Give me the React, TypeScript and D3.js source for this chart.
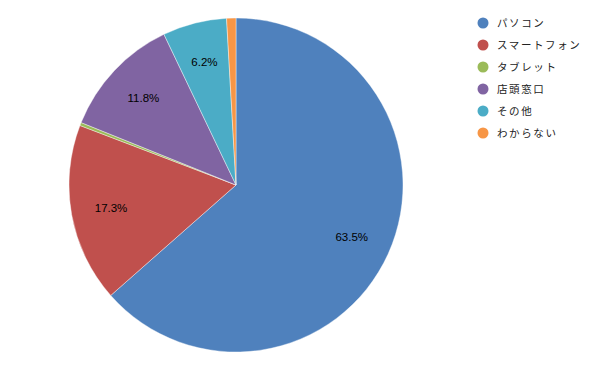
import React, { useRef, useEffect } from 'react';
import * as d3 from 'd3';

const categories = ['パソコン', 'スマートフォン', 'タブレット', '店頭窓口', 'その他', 'わからない'];
const values = [63.5, 17.3, 0.3, 11.8, 6.2, 0.9];
const labels = ['63.5%', '17.3%', '', '11.8%', '6.2%', ''];
const colors = ['#4F81BD', '#C0504D', '#9BBB59', '#8064A2', '#4BACC6', '#F79646'];

const App = () => {
  const svgRef = useRef<SVGSVGElement>(null);

  useEffect(() => {
    const svg = d3.select(svgRef.current);
    svg.selectAll('*').remove();

    const width = 600;
    const height = 371;
    const cx = 236;
    const cy = 185;
    const radius = 167;

    svg.attr('width', width).attr('height', height);

    const data = categories.map((c, i) => ({ name: c, value: values[i], label: labels[i], color: colors[i] }));

    const pie = d3.pie<any>().value(d => d.value).sort(null);
    const arc = d3.arc<any>().innerRadius(0).outerRadius(radius);
    const labelArc = d3.arc<any>().innerRadius(127).outerRadius(127);

    const g = svg.append('g').attr('transform', `translate(${cx},${cy})`);
    const arcs = pie(data);

    g.selectAll('path')
      .data(arcs)
      .join('path')
      .attr('d', arc)
      .attr('fill', d => d.data.color)
      .attr('stroke', '#fff')
      .attr('stroke-width', 0.4);

    g.selectAll('text')
      .data(arcs.filter(d => d.data.label))
      .join('text')
      .attr('transform', d => `translate(${labelArc.centroid(d)})`)
      .attr('text-anchor', 'middle')
      .attr('dy', '0.35em')
      .attr('font-family', 'Liberation Sans, Arial, sans-serif')
      .attr('font-size', 11.5)
      .attr('fill', '#000')
      .text(d => d.data.label);

    // legend
    const legend = svg.append('g').attr('transform', 'translate(483,23)');
    const item = legend.selectAll('g')
      .data(data)
      .join('g')
      .attr('transform', (d, i) => `translate(0,${i * 22})`);

    item.append('circle')
      .attr('r', 5.5)
      .attr('fill', d => d.color);

    item.append('text')
      .attr('x', 14)
      .attr('dy', '0.38em')
      .attr('font-family', 'Noto Sans CJK JP, sans-serif')
      .attr('font-size', 10.5)
      .attr('letter-spacing', 1.6)
      .attr('fill', '#222')
      .text(d => d.name);
  }, []);

  return <svg ref={svgRef} style={{ position: 'absolute', left: 0, top: 0 }}></svg>;
};

export default App;
